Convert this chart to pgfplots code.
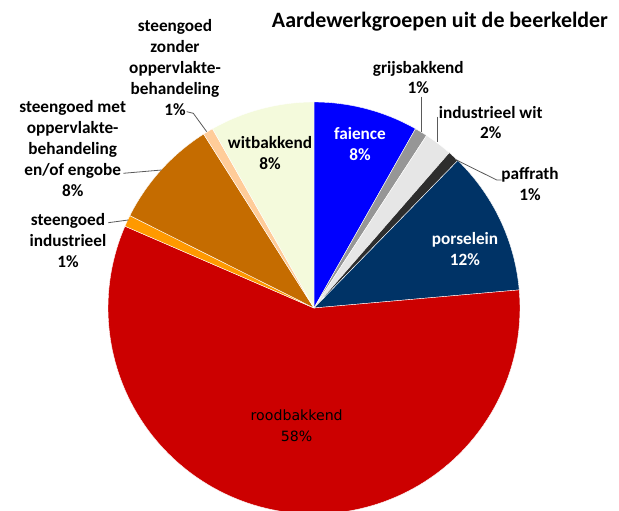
\documentclass[border=0pt]{standalone}
\usepackage{pgfplots}
\pgfplotsset{compat=1.18}
\usepackage{fontspec}
\setmainfont{Carlito}
\newfontfamily\dejavu{DejaVu Sans}
\definecolor{cFai}{RGB}{0,0,255}
\definecolor{cGrij}{RGB}{150,150,150}
\definecolor{cIndW}{RGB}{230,230,230}
\definecolor{cPaf}{RGB}{45,45,45}
\definecolor{cPor}{RGB}{0,51,102}
\definecolor{cRood}{RGB}{204,0,0}
\definecolor{cStI}{RGB}{255,153,0}
\definecolor{cStM}{RGB}{197,108,0}
\definecolor{cStZ}{RGB}{255,204,153}
\definecolor{cWit}{RGB}{244,250,220}
\definecolor{cLead}{RGB}{90,90,90}
\newcommand\curang{90}
\newcommand\slice[2]{%
  \pgfmathsetmacro\endang{\curang-#1*3.6}%
  \edef\doslice{\noexpand\addplot[fill=#2, draw=white, line width=0.4pt, domain=\endang:\curang, samples=120] ({314+206*cos(x)}, {203+206*sin(x)}) -- (axis cs:314,203) -- cycle;}%
  \doslice
  \xdef\curang{\endang}%
}
\newcommand\lab{\fontsize{17.3}{21}\selectfont\bfseries}
\begin{document}
\begin{tikzpicture}
\begin{axis}[width=619bp, height=511bp, scale only axis,
  xmin=0, xmax=619, ymin=0, ymax=511, hide axis, clip=true]
% percentages, clockwise from 12 o'clock
\slice{8.2}{cFai}   % faience
\slice{1.0}{cGrij}  % grijsbakkend
\slice{2.2}{cIndW}  % industrieel wit
\slice{0.9}{cPaf}   % paffrath
\slice{11.3}{cPor}  % porselein
\slice{57.9}{cRood} % roodbakkend
\slice{0.9}{cStI}   % steengoed industrieel
\slice{8.6}{cStM}   % steengoed met oppervlaktebehandeling
\slice{0.8}{cStZ}   % steengoed zonder oppervlaktebehandeling
\slice{8.2}{cWit}   % witbakkend
% leader lines
\addplot[cLead, line width=0.8pt] coordinates {(186.7,399.3) (193.3,397.7) (206.7,379.3)};
\addplot[cLead, line width=0.8pt] coordinates {(123.3,337.7) (161.7,341)};
\addplot[cLead, line width=0.8pt] coordinates {(108.3,288.3) (128.3,291)};
\addplot[cLead, line width=0.8pt] coordinates {(421.7,414.3) (421.7,379.3)};
\addplot[cLead, line width=0.8pt] coordinates {(437.7,394.3) (437.7,369.3)};
\addplot[cLead, line width=0.8pt] coordinates {(455,351.7) (496.7,331) (501.7,331)};
% labels
\node[font=\fontsize{22}{26}\selectfont\bfseries] at (axis cs:440,489) {Aardewerkgroepen uit de beerkelder};
\node[font=\lab, align=center] at (axis cs:175,443.5) {steengoed\\zonder\\oppervlakte-\\behandeling\\1\%};
\node[font=\lab, align=center] at (axis cs:72.7,362.3) {steengoed met\\oppervlakte-\\behandeling\\en/of engobe\\8\%};
\node[font=\lab, align=center] at (axis cs:68,270.3) {steengoed\\industrieel\\1\%};
\node[font=\lab, align=center] at (axis cs:270,357.7) {witbakkend\\8\%};
\node[font=\lab, align=center, text=white] at (axis cs:360,366.8) {faience\\8\%};
\node[font=\lab, align=center] at (axis cs:418.3,433.5) {grijsbakkend\\1\%};
\node[font=\lab, align=center] at (axis cs:490.7,388.5) {industrieel wit\\2\%};
\node[font=\lab, align=center] at (axis cs:530,326.8) {paffrath\\1\%};
\node[font=\lab, align=center, text=white] at (axis cs:465,261.8) {porselein\\12\%};
\node[font=\dejavu\fontsize{14.2}{21}\selectfont, align=center] at (axis cs:296.7,85) {roodbakkend\\58\%};
\end{axis}
\pgfresetboundingbox
\useasboundingbox (current axis.south west) rectangle (current axis.north east);
\end{tikzpicture}
\end{document}
